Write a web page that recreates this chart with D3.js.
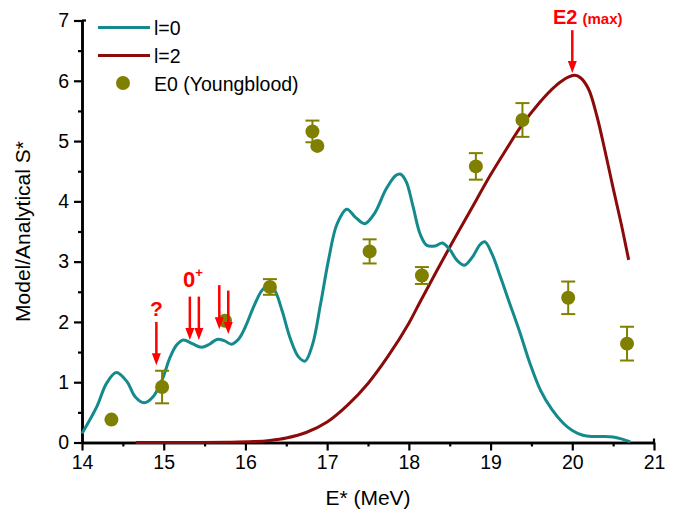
<!DOCTYPE html>
<html>
<head>
<meta charset="utf-8">
<script src="https://cdn.jsdelivr.net/npm/d3@7"></script>
<style>
  html, body { margin: 0; padding: 0; background: #fff; }
  svg { display: block; font-family: "Liberation Sans", Arial, sans-serif; }
</style>
</head>
<body>
<svg id="chart" width="682" height="520"></svg>
<script>
// l=0 model curve (E*, S*)
const l0E = [14.0, 14.18, 14.30, 14.42, 14.55, 14.65, 14.76, 14.87, 14.98, 15.08, 15.16, 15.24, 15.35, 15.46, 15.56, 15.65, 15.74, 15.83, 15.92, 16.0, 16.1, 16.2, 16.28, 16.36, 16.45, 16.55, 16.65, 16.73, 16.82, 16.92, 17.02, 17.12, 17.24, 17.35, 17.46, 17.58, 17.72, 17.84, 17.90, 17.97, 18.05, 18.14, 18.22, 18.32, 18.41, 18.50, 18.59, 18.68, 18.78, 18.87, 18.93, 19.02, 19.12, 19.22, 19.36, 19.48, 19.61, 19.75, 19.89, 20.0, 20.13, 20.25, 20.38, 20.50, 20.60, 20.71];
const l0S = [0.15, 0.59, 0.98, 1.16, 1.01, 0.76, 0.66, 0.76, 1.04, 1.42, 1.62, 1.70, 1.64, 1.58, 1.63, 1.71, 1.69, 1.63, 1.72, 1.92, 2.25, 2.52, 2.61, 2.52, 2.18, 1.72, 1.42, 1.35, 1.62, 2.30, 3.05, 3.62, 3.87, 3.73, 3.63, 3.80, 4.20, 4.43, 4.45, 4.32, 3.92, 3.45, 3.27, 3.26, 3.31, 3.20, 3.02, 2.94, 3.08, 3.28, 3.33, 3.12, 2.75, 2.36, 1.82, 1.32, 0.87, 0.55, 0.32, 0.20, 0.12, 0.10, 0.10, 0.09, 0.06, 0.01];

// l=2 model curve (E*, S*)
const l2E = [14.66, 15.2, 15.8, 16.1, 16.3, 16.5, 16.75, 17.0, 17.25, 17.5, 17.75, 18.0, 18.14, 18.5, 18.75, 19.0, 19.2, 19.36, 19.6, 19.8, 19.95, 20.03, 20.1, 20.2, 20.3, 20.4, 20.5, 20.6, 20.69];
const l2S = [0.0, 0.0, 0.005, 0.015, 0.035, 0.075, 0.17, 0.34, 0.62, 0.98, 1.44, 1.98, 2.34, 3.24, 3.84, 4.44, 4.88, 5.22, 5.64, 5.92, 6.06, 6.09, 6.05, 5.86, 5.42, 4.84, 4.22, 3.62, 3.03];

// E0 (Youngblood) measurements with symmetric uncertainties
const expE   = [14.36, 14.98, 15.75, 16.30, 16.82, 16.88, 17.52, 18.16, 18.82, 19.39, 19.95, 20.67];
const expS   = [0.38, 0.92, 2.02, 2.58, 5.16, 4.92, 3.17, 2.77, 4.58, 5.35, 2.40, 1.64];
const expErr = [0.0, 0.27, 0.0, 0.13, 0.18, 0.0, 0.20, 0.14, 0.22, 0.28, 0.27, 0.28];

// Tick values
const xTicks = [14, 15, 16, 17, 18, 19, 20, 21];
const xMinor = [14.5, 15.5, 16.5, 17.5, 18.5, 19.5, 20.5];
const yTicks = [0, 1, 2, 3, 4, 5, 6, 7];
const yMinor = [0.5, 1.5, 2.5, 3.5, 4.5, 5.5, 6.5];

// Annotation arrows: energy, top of shaft, tip (in S* units)
const arrowE   = [14.91, 15.32, 15.43, 15.68, 15.79, 20.0];
const arrowTop = [2.00, 2.42, 2.42, 2.61, 2.52, 6.84];
const arrowTip = [1.28, 1.70, 1.70, 1.88, 1.80, 6.13];

const teal = "#148a8c", darkRed = "#8b0a0a", olive = "#808000", red = "#ff0000";

const svg = d3.select("#chart");
const x = d3.scaleLinear().domain([14, 21]).range([82, 654]);
const y = d3.scaleLinear().domain([0, 7]).range([442.5, 20.5]);

// Axes
function styleAxis(g) {
  g.selectAll("path.domain").attr("stroke", "#000").attr("stroke-width", 2.5);
  g.selectAll(".tick line").attr("stroke", "#000").attr("stroke-width", 2.2);
  g.selectAll(".tick text").attr("fill", "#000").attr("font-size", 19.5)
    .attr("font-family", "'Liberation Sans', Arial, sans-serif");
}
const gx = svg.append("g").attr("transform", `translate(0,${y(0)})`)
  .call(d3.axisBottom(x).tickValues(xTicks).tickFormat(d3.format("d")).tickSize(8).tickSizeOuter(0).tickPadding(5));
styleAxis(gx);
const gxm = svg.append("g").attr("transform", `translate(0,${y(0)})`)
  .call(d3.axisBottom(x).tickValues(xMinor).tickFormat("").tickSize(4).tickSizeOuter(0));
styleAxis(gxm);
const gy = svg.append("g").attr("transform", `translate(${x(14)},0)`)
  .call(d3.axisLeft(y).tickValues(yTicks).tickFormat(d3.format("d")).tickSize(8).tickSizeOuter(0).tickPadding(5));
styleAxis(gy);
const gym = svg.append("g").attr("transform", `translate(${x(14)},0)`)
  .call(d3.axisLeft(y).tickValues(yMinor).tickFormat("").tickSize(4).tickSizeOuter(0));
styleAxis(gym);

// small end caps on the axis lines
svg.append("line").attr("x1", x(14)).attr("x2", x(14) + 4).attr("y1", y(7)).attr("y2", y(7))
  .attr("stroke", "#000").attr("stroke-width", 2.2);
svg.append("line").attr("x1", x(21)).attr("x2", x(21)).attr("y1", y(0)).attr("y2", y(0) - 4)
  .attr("stroke", "#000").attr("stroke-width", 2.2);

// Axis titles
svg.append("text").attr("x", (x(14) + x(21)) / 2).attr("y", 505).attr("text-anchor", "middle")
  .attr("font-size", 21).text("E* (MeV)");
svg.append("text").attr("transform", `translate(30,${(y(0) + y(7)) / 2}) rotate(-90)`)
  .attr("text-anchor", "middle").attr("font-size", 21).text("Model/Analytical S*");

// Model curves
const line = d3.line().x(d => x(d[0])).y(d => y(d[1])).curve(d3.curveCatmullRom.alpha(0.5));
svg.append("path").datum(l2E.map((e, i) => [e, l2S[i]])).attr("d", line)
  .attr("fill", "none").attr("stroke", darkRed).attr("stroke-width", 3);
svg.append("path").datum(l0E.map((e, i) => [e, l0S[i]])).attr("d", line)
  .attr("fill", "none").attr("stroke", teal).attr("stroke-width", 3);

// Measurements with error bars
const pts = expE.map((e, i) => ({ e, s: expS[i], err: expErr[i] }));
const eb = svg.append("g").attr("stroke", olive).attr("stroke-width", 2);
pts.filter(d => d.err > 0).forEach(d => {
  eb.append("line").attr("x1", x(d.e)).attr("x2", x(d.e)).attr("y1", y(d.s - d.err)).attr("y2", y(d.s + d.err));
  [d.s - d.err, d.s + d.err].forEach(v => {
    eb.append("line").attr("x1", x(d.e) - 7).attr("x2", x(d.e) + 7).attr("y1", y(v)).attr("y2", y(v));
  });
});
svg.append("g").selectAll("circle").data(pts).join("circle")
  .attr("cx", d => x(d.e)).attr("cy", d => y(d.s)).attr("r", 7).attr("fill", olive);

// Legend
const lg = svg.append("g").attr("font-size", 19.5);
lg.append("line").attr("x1", 98).attr("x2", 150).attr("y1", 27.5).attr("y2", 27.5).attr("stroke", teal).attr("stroke-width", 3);
lg.append("text").attr("x", 154).attr("y", 34.5).text("l=0");
lg.append("line").attr("x1", 98).attr("x2", 150).attr("y1", 55.5).attr("y2", 55.5).attr("stroke", darkRed).attr("stroke-width", 3);
lg.append("text").attr("x", 154).attr("y", 62.5).text("l=2");
lg.append("circle").attr("cx", 123).attr("cy", 83).attr("r", 7).attr("fill", olive);
lg.append("text").attr("x", 154).attr("y", 90.5).text("E0 (Youngblood)");

// Annotation arrows
const ag = svg.append("g");
arrowE.forEach((e, i) => {
  const ax = x(e), y0 = y(arrowTop[i]), y1 = y(arrowTip[i]);
  ag.append("line").attr("x1", ax).attr("x2", ax).attr("y1", y0).attr("y2", y1 - 10)
    .attr("stroke", red).attr("stroke-width", 2.5);
  ag.append("path").attr("d", `M${ax - 4.5},${y1 - 12} L${ax + 4.5},${y1 - 12} L${ax},${y1} Z`).attr("fill", red);
});

// Annotation labels
svg.append("text").attr("x", x(14.91)).attr("y", 316).attr("text-anchor", "middle")
  .attr("font-size", 21).attr("font-weight", "bold").attr("fill", red).text("?");
const zp = svg.append("text").attr("x", 183).attr("y", 287).attr("font-size", 22)
  .attr("font-weight", "bold").attr("fill", red);
zp.append("tspan").text("0");
zp.append("tspan").attr("dy", -10).attr("font-size", 13).text("+");
const e2 = svg.append("text").attr("x", 553).attr("y", 24).attr("font-weight", "bold").attr("fill", red);
e2.append("tspan").attr("font-size", 20).text("E2");
e2.append("tspan").attr("font-size", 15).attr("dx", 5).text("(max)");
</script>
</body>
</html>
